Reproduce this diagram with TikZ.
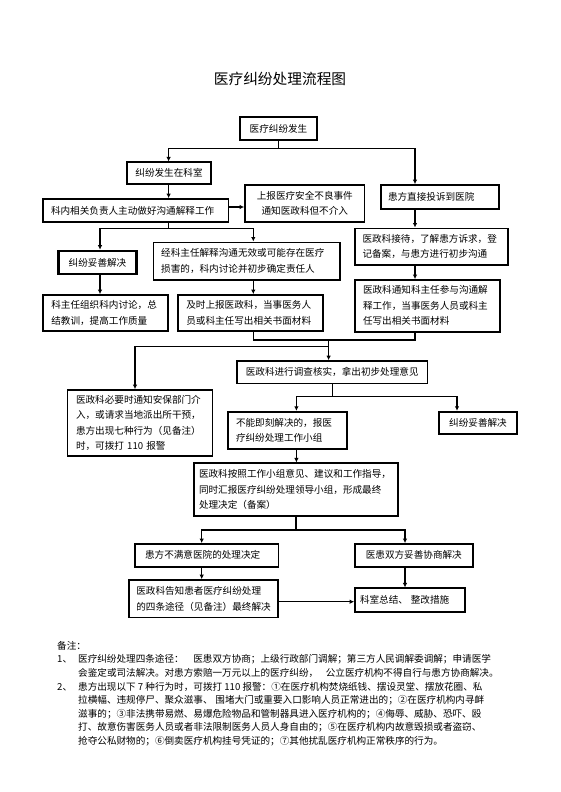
\documentclass[tikz,border=0pt]{standalone}
\usepackage{fontspec}
\setmainfont{Noto Sans CJK SC}
\usetikzlibrary{arrows.meta}
\newcommand\boxfont{\fontsize{9.6}{15.5}\selectfont}
\newcommand\notefont{\fontsize{9.6}{13.6}\selectfont}
\tikzset{
  box/.style={draw,line width=1.7pt,inner sep=0pt,font=\boxfont},
  flow/.style={line width=1.3pt,line cap=rect},
}
\begin{document}
\begin{tikzpicture}[x=1pt,y=-1pt,>={Latex[length=4.5pt,width=4.5pt]}]
\useasboundingbox[fill=white] (0,0) rectangle (560,792);
\node[font=\fontsize{14.7}{18}\selectfont] (title) at (280,79) {医疗纠纷处理流程图};

\node[box,line width=1.1pt,minimum width=77pt,minimum height=23pt] (fasheng) at (278.5,128.5) {医疗纠纷发生};
\node[box,minimum width=84pt,minimum height=22pt] (keshi) at (169,173.3) {纠纷发生在科室};
\node[box,minimum width=185.6pt,minimum height=23pt,text width=169.6pt,align=left] (goutong) at (135.8,210.5) {科内相关负责人主动做好沟通解释工作};
\node[box,minimum width=119.6pt,minimum height=37.3pt,align=center] (shangbao) at (304.8,203.4) {上报医疗安全不良事件\\通知医政科但不介入};
\node[box,minimum width=118pt,minimum height=24pt,text width=104pt,align=left] (tousu) at (440,197) {患方直接投诉到医院};
\node[box,minimum width=153pt,minimum height=36.7pt,text width=138pt,align=left] (jiedai) at (431.5,246.7) {医政科接待，了解患方诉求，登\\记备案，与患方进行初步沟通};
\node[box,line width=2.6pt,minimum width=78.4pt,minimum height=23pt] (tuoshanL) at (97.5,262.5) {纠纷妥善解决};
\node[box,minimum width=186.7pt,minimum height=37.7pt,text width=171pt,align=left] (zhuren) at (246.7,261.2) {经科主任解释沟通无效或可能存在医疗\\损害的，科内讨论并初步确定责任人};
\node[box,minimum width=145pt,minimum height=51.7pt,text width=129pt,align=left] (tongzhi) at (427.5,305.8) {医政科通知科主任参与沟通解\\释工作，当事医务人员或科主\\任写出相关书面材料};
\node[box,minimum width=125pt,minimum height=36pt,text width=109pt,align=left] (zongjieL) at (105.8,313) {科主任组织科内讨论，总\\结教训，提高工作质量};
\node[box,minimum width=145pt,minimum height=36pt,text width=129pt,align=left] (jishi) at (250.8,313) {及时上报医政科，当事医务人\\员或科主任写出相关书面材料};
\node[box,minimum width=190.5pt,minimum height=22.3pt] (diaocha) at (332.2,372.2) {医政科进行调查核实，拿出初步处理意见};
\node[box,minimum width=145pt,minimum height=66pt,text width=128pt,align=left] (anbao) at (140,423) {医政科必要时通知安保部门介\\入，或请求当地派出所干预，\\患方出现七种行为（见备注）\\时，可拨打 110 报警};
\node[box,minimum width=119pt,minimum height=37.6pt,text width=103pt,align=left] (jike) at (287.5,430.5) {不能即刻解决的，报医\\疗纠纷处理工作小组};
\node[box,minimum width=78pt,minimum height=22.3pt] (tuoshanR) at (478,422.8) {纠纷妥善解决};
\node[box,minimum width=204pt,minimum height=52.4pt,text width=194pt,align=left] (anzhao) at (296,489.5) {医政科按照工作小组意见、建议和工作指导，\\同时汇报医疗纠纷处理领导小组，形成最终\\处理决定（备案）};
\node[box,minimum width=143.3pt,minimum height=22.7pt,text width=123.3pt,align=left] (bumanyi) at (206.7,555.3) {患方不满意医院的处理决定};
\node[box,minimum width=117.7pt,minimum height=22.7pt] (xieshang) at (413.8,555.3) {医患双方妥善协商解决};
\node[box,minimum width=149pt,minimum height=37.3pt,text width=135pt,align=left] (gaozhi) at (203.8,598.7) {医政科告知患者医疗纠纷处理\\的四条途径（见备注）最终解决};
\node[box,minimum width=110pt,minimum height=23.4pt,text width=100pt,align=left] (zhenggai) at (410,600) {科室总结、\hspace{0.3em}整改措施};

% connectors
\coordinate (b1) at (168.6,148.5);
\coordinate (b2) at (415,148.5);
\coordinate (y207) at (0,207);
\draw[flow] (fasheng.south) -- (fasheng.south |- b1);
\draw[flow] (b1) -- (b2);
\draw[flow,->] (b1) -- (b1 |- keshi.north);
\draw[flow,->] (b2) -- (b2 |- tousu.north);
\draw[flow,->] (b1 |- keshi.south) -- (b1 |- goutong.north);
\draw[flow,->] (goutong.east |- y207) -- (shangbao.west |- y207);
\coordinate (j1) at (168.6,228.3);
\coordinate (j1l) at (100,228.3);
\coordinate (j1r) at (253.3,228.3);
\draw[flow] (b1 |- goutong.south) -- (j1);
\draw[flow] (j1l) -- (j1r);
\draw[flow,->] (j1l) -- (j1l |- tuoshanL.north);
\draw[flow,->] (j1r) -- (j1r |- zhuren.north);
\draw[flow,->] (b2 |- tousu.south) -- (b2 |- jiedai.north);
\draw[flow,->] (j1l |- tuoshanL.south) -- (j1l |- zongjieL.north);
\draw[flow,->] (j1r |- zhuren.south) -- (j1r |- jishi.north);
\draw[flow,->] (b2 |- jiedai.south) -- (b2 |- tongzhi.north);
\coordinate (m1) at (253.3,340);
\coordinate (m2) at (415,340);
\coordinate (m3) at (328.6,340);
\coordinate (m4) at (135,346.7);
\draw[flow] (m1 |- jishi.south) -- (m1) -- (m2) -- (m2 |- tongzhi.south);
\draw[flow,->] (m3) -- (m3 |- diaocha.north);
\draw[flow,->] (m3 |- m4) -- (m4) -- (m4 |- anbao.north);
\coordinate (s1) at (296.4,396.7);
\coordinate (s2) at (457,396.7);
\draw[flow] (diaocha.south) -- (diaocha.south |- s1);
\draw[flow] (s1) -- (s2);
\draw[flow,->] (s1) -- (s1 |- jike.north);
\draw[flow,->] (s2) -- (s2 |- tuoshanR.north);
\draw[flow,->] (s1 |- jike.south) -- (s1 |- anzhao.north);
\coordinate (t1) at (201.7,530);
\coordinate (t2) at (405,530);
\coordinate (y602) at (0,601.7);
\draw[flow] (anzhao.south) -- (anzhao.south |- t1);
\draw[flow] (t1) -- (t2);
\draw[flow,->] (t1) -- (t1 |- bumanyi.north);
\draw[flow,->] (t2) -- (t2 |- xieshang.north);
\draw[flow,->] (t1 |- bumanyi.south) -- (t1 |- gaozhi.north);
\draw[flow,->] (t2 |- xieshang.south) -- (t2 |- zhenggai.north);
\draw[flow,->] (gaozhi.east |- y602) -- (zhenggai.west |- y602);

% notes
\node[anchor=north west,font=\notefont,align=left,inner sep=0pt] (beizhu) at (57,641) {备注：\\
\makebox[21pt][l]{1、}医疗纠纷处理四条途径：\hspace{1em}医患双方协商；上级行政部门调解；第三方人民调解委调解；申请医学\\
\hspace*{21pt}会鉴定或司法解决。对患方索赔一万元以上的医疗纠纷，\hspace{0.8em}公立医疗机构不得自行与患方协商解决。\\
\makebox[21pt][l]{2、}患方出现以下 7 种行为时，可拨打 110 报警：①在医疗机构焚烧纸钱、摆设灵堂、摆放花圈、私\\
\hspace*{21pt}拉横幅、违规停尸、聚众滋事、\hspace{0.3em}围堵大门或重要入口影响人员正常进出的；②在医疗机构内寻衅\\
\hspace*{21pt}滋事的；③非法携带易燃、易爆危险物品和管制器具进入医疗机构的；④侮辱、威胁、恐吓、殴\\
\hspace*{21pt}打、故意伤害医务人员或者非法限制医务人员人身自由的；⑤在医疗机构内故意毁损或者盗窃、\\
\hspace*{21pt}抢夺公私财物的；⑥倒卖医疗机构挂号凭证的；⑦其他扰乱医疗机构正常秩序的行为。};
\end{tikzpicture}
\end{document}
